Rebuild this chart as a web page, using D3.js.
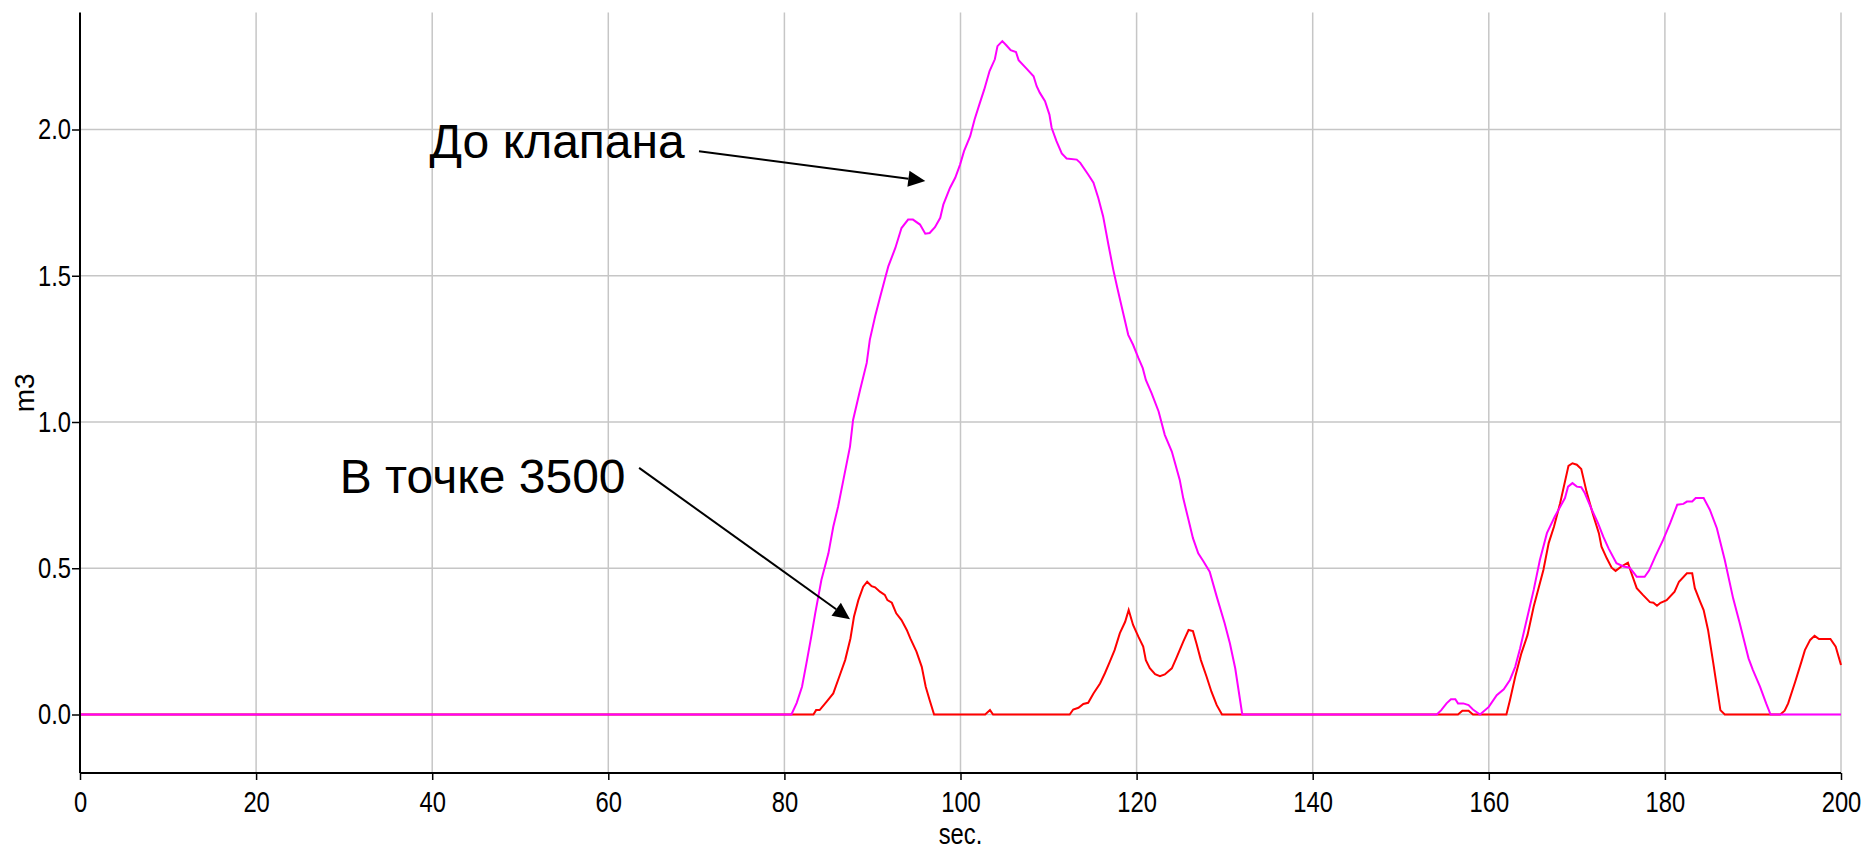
<!DOCTYPE html>
<html>
<head>
<meta charset="utf-8">
<script src="https://cdn.jsdelivr.net/npm/d3@7"></script>
<style>
  body { margin: 0; background: #fff; }
  .tick text { font-family: "Liberation Sans", Arial, sans-serif; font-size: 29px; fill: #000; }
  .lbl { font-family: "Liberation Sans", Arial, sans-serif; font-size: 29px; fill: #000; }
  .note { font-family: "Liberation Sans", Arial, sans-serif; font-size: 48px; fill: #000; }
</style>
</head>
<body>
<div class="canvas"></div>
<script>
// seconds and volume, m3 — "До клапана" (magenta)
var upTime = [0, 80.8, 81.4, 82.0, 82.5, 83.05, 83.5, 84.2, 85.0, 85.55, 86.1, 86.7, 87.45, 87.8, 88.6, 89.35, 89.7, 90.3, 90.85,
  91.4, 91.8, 92.6, 93.3, 94.05, 94.6, 95.4, 96.0, 96.5, 97.1, 97.7, 98.05, 98.8, 99.4, 99.95, 100.4, 101.1, 101.6, 102.2,
  102.7, 103.3, 103.9, 104.2, 104.75, 105.2, 105.7, 106.3, 106.6, 107.5, 108.3, 108.65, 109.0, 109.6, 110.1, 110.35, 110.9,
  111.5, 112.05, 113.2, 113.6, 114.5, 115.1, 115.65, 116.2, 116.8, 117.35, 117.8, 118.3, 119.05, 119.6, 120.2, 120.7, 121.05,
  121.7, 122.5, 123.2, 124.0, 124.9, 125.3, 125.9, 126.4, 127.0, 127.6, 128.3, 129.1, 130.0, 130.6, 131.2, 132.0,
  154.1, 154.6, 155.2, 155.7, 156.2, 156.5, 157.1, 157.7, 158.2, 159.0, 160.0, 160.9, 161.7, 162.4, 163.0, 163.55, 164.3,
  165.1, 165.8, 166.6, 167.5, 168.65, 169.0, 169.5, 170.0, 170.5, 170.9, 171.7, 172.4, 173.0, 173.6, 174.5, 175.3, 176.0,
  176.8, 177.7, 178.2, 178.9, 179.8, 180.6, 181.4, 182.1, 182.5, 183.1, 183.5, 184.4, 185.1, 185.9, 186.8, 187.75, 188.5,
  189.5, 190.0, 190.8, 191.5, 192.0, 200];
var upVal = [0, 0, 0.04, 0.095, 0.175, 0.266, 0.346, 0.46, 0.551, 0.642, 0.711, 0.802, 0.916, 1.007, 1.11, 1.202, 1.281, 1.361, 1.425,
  1.487, 1.532, 1.595, 1.663, 1.692, 1.692, 1.675, 1.644, 1.646, 1.666, 1.698, 1.743, 1.8, 1.835, 1.88, 1.926, 1.977, 2.034, 2.091,
  2.137, 2.2, 2.24, 2.285, 2.302, 2.288, 2.271, 2.265, 2.237, 2.208, 2.182, 2.148, 2.126, 2.097, 2.051, 2.006, 1.96,
  1.918, 1.901, 1.897, 1.886, 1.846, 1.818, 1.766, 1.703, 1.606, 1.521, 1.46, 1.395, 1.298, 1.264, 1.219, 1.184, 1.144,
  1.099, 1.036, 0.956, 0.899, 0.802, 0.739, 0.665, 0.603, 0.551, 0.523, 0.488, 0.403, 0.312, 0.243, 0.158, 0,
  0, 0.015, 0.038, 0.052, 0.052, 0.038, 0.038, 0.032, 0.017, 0, 0.026, 0.066, 0.086, 0.118, 0.163, 0.226, 0.323,
  0.426, 0.528, 0.62, 0.677, 0.74, 0.779, 0.791, 0.779, 0.777, 0.757, 0.7, 0.654, 0.608, 0.568, 0.517, 0.506, 0.502,
  0.471, 0.471, 0.492, 0.54, 0.597, 0.654, 0.717, 0.72, 0.728, 0.728, 0.74, 0.74, 0.7, 0.637, 0.528, 0.397, 0.312,
  0.192, 0.152, 0.095, 0.038, 0, 0];

// "В точке 3500" (red)
var ptTime = [0, 83.3, 83.6, 84.0, 84.8, 85.55, 86.3, 86.9, 87.5, 87.9, 88.4, 88.95, 89.4, 89.9, 90.3, 90.85, 91.4, 91.7, 92.2,
  92.7, 93.3, 93.9, 94.3, 95.0, 95.6, 96.05, 96.5, 97.0, 102.8, 103.35, 103.7, 112.4, 112.8, 113.4, 113.95, 114.5, 115.1,
  115.85, 116.4, 116.95, 117.5, 118.1, 118.7, 119.1, 119.6, 120.2, 120.75, 121.05, 121.5, 122.1, 122.65, 123.2, 124.0,
  124.5, 125.3, 125.9, 126.4, 126.8, 127.3, 127.95, 128.5, 129.1, 129.7, 156.5, 157.0, 157.7, 158.2, 162.0, 162.4, 163.0,
  163.7, 164.4, 165.1, 166.2, 166.8, 167.4, 168.1, 169.05, 169.5, 170.0, 170.5, 171.1, 171.85, 172.5, 172.8, 173.4,
  173.95, 174.4, 175.05, 175.8, 176.2, 176.8, 177.5, 178.3, 178.7, 179.1, 179.5, 180.2, 181.1, 181.6, 182.5, 183.1,
  183.4, 184.0, 184.4, 184.9, 185.5, 186.3, 186.8, 193.1, 193.6, 194.0, 194.8, 195.5, 195.9, 196.5, 197.0, 197.5,
  198.8, 199.4, 200];
var ptVal = [0, 0, 0.015, 0.015, 0.044, 0.072, 0.135, 0.186, 0.26, 0.334, 0.391, 0.437, 0.454, 0.439, 0.435, 0.42, 0.409, 0.391, 0.382,
  0.346, 0.323, 0.289, 0.26, 0.215, 0.163, 0.095, 0.049, 0, 0, 0.015, 0, 0, 0.017, 0.023, 0.036, 0.04, 0.072,
  0.106, 0.141, 0.18, 0.22, 0.278, 0.317, 0.357, 0.306, 0.266, 0.232, 0.186, 0.158, 0.138, 0.131, 0.137, 0.158,
  0.192, 0.249, 0.289, 0.285, 0.243, 0.186, 0.129, 0.078, 0.032, 0, 0, 0.013, 0.013, 0, 0, 0.049, 0.129,
  0.209, 0.272, 0.369, 0.494, 0.586, 0.642, 0.722, 0.85, 0.859, 0.854, 0.839, 0.762, 0.682, 0.62, 0.574, 0.534,
  0.502, 0.491, 0.506, 0.519, 0.483, 0.432, 0.409, 0.384, 0.382, 0.372, 0.382, 0.391, 0.42, 0.454, 0.483, 0.483,
  0.432, 0.386, 0.357, 0.289, 0.175, 0.015, 0, 0, 0.013, 0.038, 0.112, 0.18, 0.22, 0.255, 0.269, 0.258,
  0.258, 0.232, 0.169];

var xTicks = [0, 20, 40, 60, 80, 100, 120, 140, 160, 180, 200];
var yTicks = [0, 0.5, 1.0, 1.5, 2.0];

// annotations: [label, text x, text y, arrow from x, from y, arrow to x, to y] in data units
var notes = [
  ['До клапана', 39.7, 1.902, 70.3, 1.926, 96.0, 1.824],
  ['В точке 3500', 29.5, 0.756, 63.5, 0.843, 87.45, 0.326]
];

const width = 1870, height = 850;
const narrow = 0.82; // the labels are drawn in a condensed face
const svg = d3.select('.canvas')
  .append('svg')
    .attr('width', width)
    .attr('height', height);

const x = d3.scaleLinear().domain([0, 200]).range([80, 1841]);
const y = d3.scaleLinear().domain([-0.2, 2.4]).range([773, 12.5]);

// grid
const grid = svg.append('g');
grid.selectAll('.vg').data(xTicks.filter(d => d > 0)).enter()
  .append('line')
    .attr('x1', d => x(d)).attr('x2', d => x(d))
    .attr('y1', y(2.4)).attr('y2', y(-0.2))
    .attr('stroke', '#c6c6c6').attr('stroke-width', 1.5);
grid.selectAll('.hg').data(yTicks).enter()
  .append('line')
    .attr('x1', x(0)).attr('x2', x(200))
    .attr('y1', d => y(d)).attr('y2', d => y(d))
    .attr('stroke', '#c6c6c6').attr('stroke-width', 1.5);

// lines
const line = d3.line().x(d => x(d[0])).y(d => y(d[1]));
svg.append('path')
  .datum(ptTime.map((t, i) => [t, ptVal[i]]))
  .attr('d', line)
  .attr('fill', 'none').attr('stroke', '#ff0000').attr('stroke-width', 2);
svg.append('path')
  .datum(upTime.map((t, i) => [t, upVal[i]]))
  .attr('d', line)
  .attr('fill', 'none').attr('stroke', '#ff00ff').attr('stroke-width', 2);

// axes
const xAxis = d3.axisBottom(x).tickValues(xTicks).tickSize(7).tickPadding(11).tickFormat(d => d);
const yAxis = d3.axisLeft(y).tickValues(yTicks).tickSize(8).tickPadding(1).tickFormat(d3.format('.1f'));

const xAxisGroup = svg.append('g')
  .attr('transform', `translate(0, ${y(-0.2)})`)
  .call(xAxis);
const yAxisGroup = svg.append('g')
  .attr('transform', `translate(${x(0)}, 0)`)
  .call(yAxis);

[xAxisGroup, yAxisGroup].forEach(g => {
  g.select('.domain').attr('stroke', '#000').attr('stroke-width', 2);
  g.selectAll('.tick line').attr('stroke', '#000').attr('stroke-width', 1.5);
  g.attr('font-family', null).attr('font-size', null);
});
yAxisGroup.select('.domain').attr('d', `M0,${y(2.4)}V${y(-0.2)}`);
xAxisGroup.select('.domain').attr('d', `M${x(0)},0H${x(200)}`);

xAxisGroup.selectAll('.tick text')
  .attr('transform', `scale(${narrow},1)`);
yAxisGroup.selectAll('.tick text')
  .attr('x', 0)
  .attr('transform', `translate(-9,0) scale(${narrow},1)`);

svg.append('text').attr('class', 'lbl')
  .attr('text-anchor', 'middle')
  .attr('transform', `translate(${x(100)}, 844) scale(${narrow},1)`)
  .text('sec.');
svg.append('text')
  .attr('transform', `translate(34, ${y(1.1)}) rotate(-90)`)
  .attr('text-anchor', 'middle')
  .attr('font-family', '"Liberation Sans", Arial, sans-serif')
  .attr('font-size', 28)
  .text('m3');

// annotations with arrows
notes.forEach(n => {
  svg.append('text').attr('class', 'note')
    .attr('x', x(n[1])).attr('y', y(n[2]))
    .text(n[0]);
  const x1 = x(n[3]), y1 = y(n[4]), x2 = x(n[5]), y2 = y(n[6]);
  const a = Math.atan2(y2 - y1, x2 - x1);
  const len = 17, hw = 8;
  const bx = x2 - len * Math.cos(a), by = y2 - len * Math.sin(a);
  svg.append('line')
    .attr('x1', x1).attr('y1', y1).attr('x2', bx).attr('y2', by)
    .attr('stroke', '#000').attr('stroke-width', 2);
  svg.append('path')
    .attr('d', `M${x2},${y2}L${bx - hw * Math.sin(a)},${by + hw * Math.cos(a)}L${bx + hw * Math.sin(a)},${by - hw * Math.cos(a)}Z`)
    .attr('fill', '#000');
});
</script>
</body>
</html>
